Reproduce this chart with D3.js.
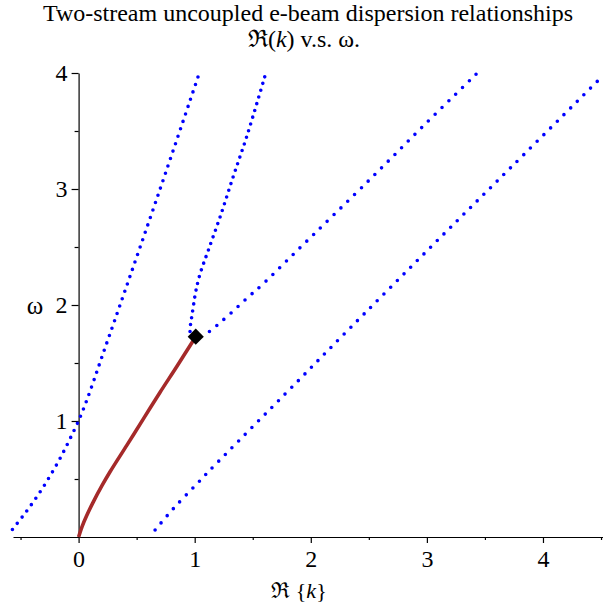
<!DOCTYPE html>
<html>
<head>
<meta charset="utf-8">
<script src="https://cdn.jsdelivr.net/npm/d3@7"></script>
<style>
  body { margin: 0; background: white; }
  svg { display: block; }
</style>
</head>
<body>
<div id="chart"></div>
<script>
let w = 603;
let h = 603;

// [Re(k), omega]
let leftBranch = [
  [-0.57, 0.065], [-0.48, 0.18], [-0.395, 0.296], [-0.317, 0.411], [-0.246, 0.526],
  [-0.18, 0.64], [-0.122, 0.75], [-0.065, 0.865], [-0.01, 0.98], [0.056, 1.14],
  [0.128, 1.34], [0.2, 1.55], [0.357, 2.0], [0.697, 2.985], [1.04, 4.0]
];
let upperBranch = [
  [0.96, 1.771], [0.965, 1.84], [0.975, 1.9], [0.99, 2.0], [1.01, 2.12], [1.047, 2.27],
  [1.118, 2.474], [1.219, 2.76], [1.333, 3.11], [1.449, 3.455], [1.613, 4.0]
];
let slowBranch = [
  [1.127, 1.771], [1.205, 1.836], [1.334, 1.95], [1.463, 2.07], [1.587, 2.18],
  [1.879, 2.466], [2.517, 3.09], [2.976, 3.55], [3.435, 4.0]
];
let rightBranch = [
  [0.659, 0.06], [0.811, 0.239], [1.024, 0.463], [1.133, 0.578], [1.873, 1.328],
  [2.258, 1.72], [3.114, 2.58], [3.745, 3.207], [4.483, 3.943]
];
// complex pair, real part (solid)
let complexBranch = [
  [0, 0], [0.03, 0.09], [0.07, 0.185], [0.128, 0.305], [0.2, 0.44], [0.271, 0.562],
  [0.415, 0.79], [0.558, 1.018], [0.702, 1.248], [0.846, 1.47], [1.009, 1.727]
];
let branchPoint = [1.009, 1.727];

let xTicks = [0, 1, 2, 3, 4];
let xMinor = [-0.5, 0.5, 1.5, 2.5, 3.5, 4.5];
let yTicks = [1, 2, 3, 4];
let yMinor = [0.5, 1.5, 2.5, 3.5];

let serif = "'Liberation Serif', 'Times New Roman', serif";

let svg = d3.select("#chart")
  .append("svg")
  .attr("width", w)
  .attr("height", h);

let x = d3.scaleLinear().domain([-0.565, 4.517]).range([13, 603]);
let y = d3.scaleLinear().domain([0, 4]).range([537, 73]);

// title
let title = svg.append("text")
  .attr("text-anchor", "middle")
  .style("font-family", serif)
  .style("font-size", "24px")
  .attr("fill", "black");
title.append("tspan")
  .attr("x", 308).attr("y", 21)
  .text("Two-stream uncoupled e-beam dispersion relationships");
let t2 = title.append("tspan").attr("x", 304).attr("y", 47);
t2.append("tspan").text("ℜ(");
t2.append("tspan").attr("font-style", "italic").text("k");
t2.append("tspan").text(")  v.s. ω.");

// axes
svg.append("g")
  .attr("transform", `translate(0, ${y(0)})`)
  .call(d3.axisBottom(x).tickValues(xTicks).tickSize(6).tickSizeOuter(0).tickPadding(7).tickFormat(d3.format("d")));
svg.append("g")
  .attr("transform", `translate(0, ${y(0)})`)
  .call(d3.axisBottom(x).tickValues(xMinor).tickSize(3).tickSizeOuter(0).tickFormat(""))
  .select(".domain").remove();

svg.append("g")
  .attr("transform", `translate(${x(0)}, 0)`)
  .call(d3.axisLeft(y).tickValues(yTicks).tickSize(7).tickSizeOuter(0).tickPadding(4).tickFormat(d3.format("d")));
svg.append("g")
  .attr("transform", `translate(${x(0)}, 0)`)
  .call(d3.axisLeft(y).tickValues(yMinor).tickSize(4).tickSizeOuter(0).tickFormat(""))
  .select(".domain").remove();

svg.selectAll(".tick text")
  .style("font-family", serif)
  .style("font-size", "24px")
  .attr("fill", "black");
svg.selectAll(".domain, .tick line").attr("stroke", "black").attr("stroke-width", 1.2);

// axis labels
let xl = svg.append("text")
  .attr("x", 299).attr("y", 598)
  .attr("text-anchor", "middle")
  .style("font-family", serif)
  .style("font-size", "22px");
xl.append("tspan").text("ℜ {");
xl.append("tspan").attr("font-style", "italic").text("k");
xl.append("tspan").text("}");

svg.append("text")
  .attr("x", 35).attr("y", 314)
  .attr("text-anchor", "middle")
  .style("font-family", serif)
  .style("font-size", "25px")
  .text("ω");

// curves
let line = d3.line()
  .x(d => x(d[0]))
  .y(d => y(d[1]))
  .curve(d3.curveCatmullRom);

let dotted = [
  { pts: leftBranch, gap: 7.8 },
  { pts: upperBranch, gap: 7.0 },
  { pts: slowBranch, gap: 9.5 },
  { pts: rightBranch, gap: 9.4 }
];

svg.append("path")
  .datum(complexBranch)
  .attr("d", line)
  .attr("fill", "none")
  .attr("stroke", "#a52a2a")
  .attr("stroke-width", 3.6);

svg.selectAll("path.dots")
  .data(dotted)
  .join("path")
  .attr("class", "dots")
  .attr("d", d => line(d.pts))
  .attr("fill", "none")
  .attr("stroke", "#0000ff")
  .attr("stroke-width", 3.6)
  .attr("stroke-linecap", "round")
  .attr("stroke-dasharray", d => `0 ${d.gap}`);

svg.append("path")
  .attr("d", d3.symbol().type(d3.symbolSquare).size(130))
  .attr("transform", `translate(${x(branchPoint[0])}, ${y(branchPoint[1])}) rotate(45)`)
  .attr("fill", "black");
</script>
</body>
</html>
